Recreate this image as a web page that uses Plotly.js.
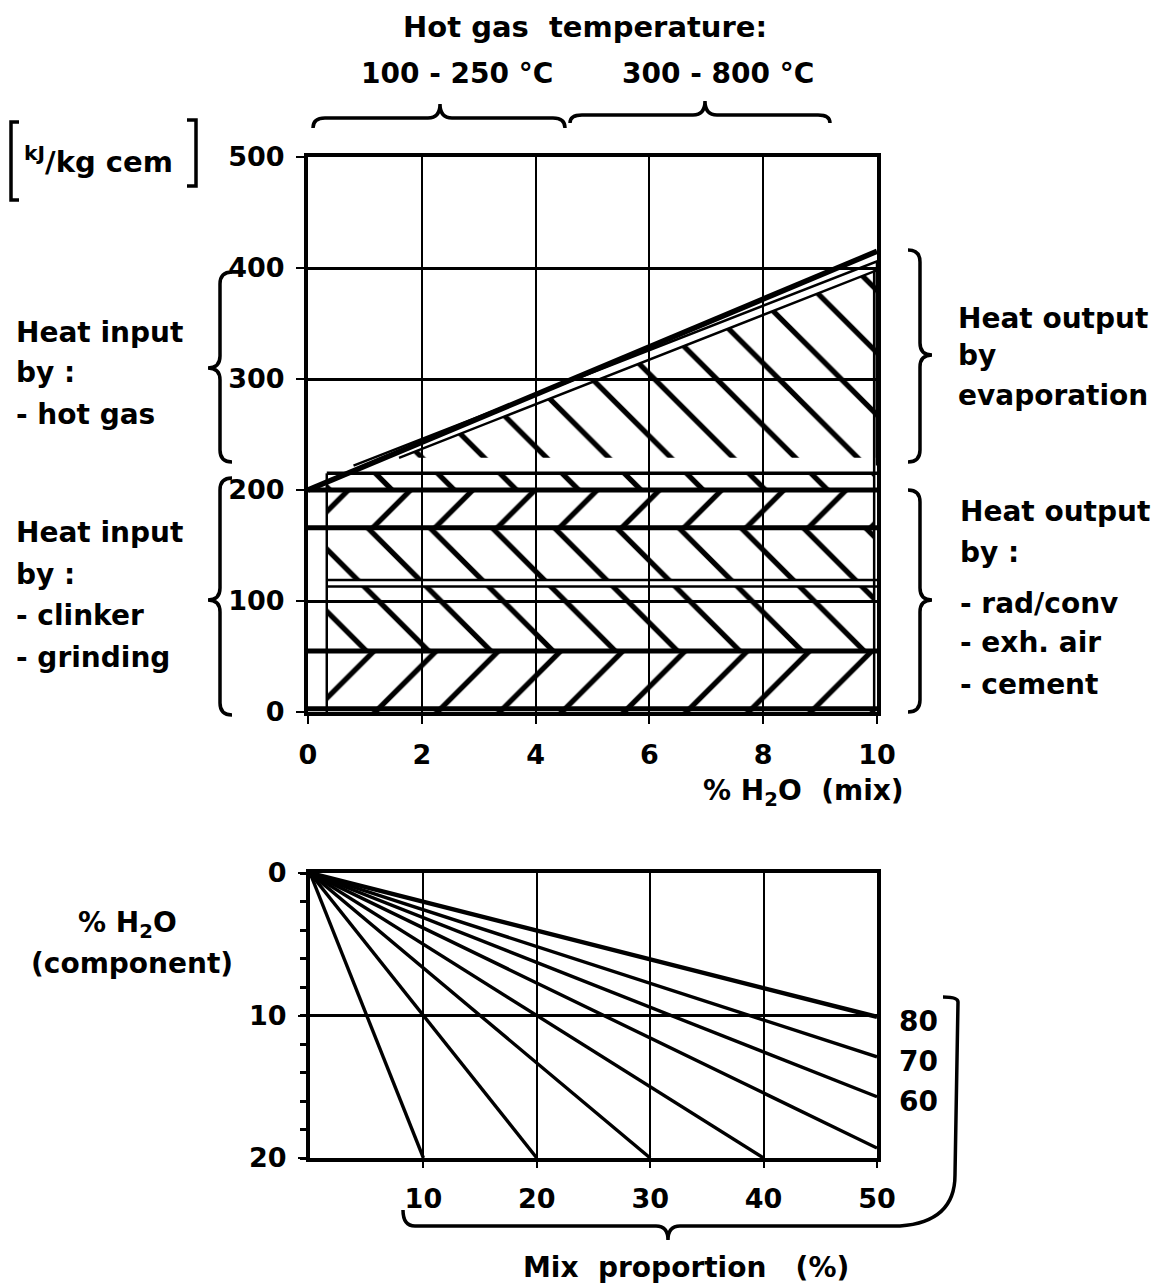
<!DOCTYPE html>
<html><head><meta charset="utf-8">
<script src="https://cdn.plot.ly/plotly-3.0.1.min.js"></script>
<style>body{margin:0;background:#fff}#chart{width:1151px;height:1283px}</style>
</head><body><div id="chart"></div>
<script>
// ---------- DATA ----------
// Top chart: heat balance vs % H2O (mix)
const mixRange = [0, 10];
const hotGasX = [0, 10];
const hotGasY = [200, 415];              // heat input: clinker/grinding + hot gas
const bandLow  = [0, 55, 119, 166, 200]; // heat output bands
const bandHigh = [55, 113, 166, 200, 215];
const bandHatch = ['/', '\\', '\\', '/', '\\'];
const boxX = [0.33, 9.95];
const bandLines = [3, 55, 113, 119, 166, 200, 215];
const bandLineStartX = [0, 0, 0.33, 0.33, 0, 0, 0.33];
const evapX = [1.6, 10, 10];             // evaporation output
const evapY = [229, 398, 229];
const evapLine2X = [0.8, 10, 10];
const evapLine2Y = [222, 406, 222];
const yTicksTop = [0, 100, 200, 300, 400, 500];
const xTicksTop = [0, 2, 4, 6, 8, 10];
// Bottom chart: % H2O (component) vs mix proportion
const compLineEndX = [10, 20, 30, 40, 50, 50, 50, 50];
const compLineEndY = [20, 20, 20, 20, 19.3, 15.7, 12.9, 10.1];
const propLabels = ['80', '70', '60'];
const propLabelLine = [7, 6, 5];
const xTicksBot = [10, 20, 30, 40, 50];
const yTicksBot = [0, 10, 20];

// ---------- LAYOUT HELPERS ----------
const W = 1151, H = 1283;
const FONT = 'DejaVu Sans, Liberation Sans, sans-serif';
const fx = p => p / W, fy = p => 1 - p / H;
function P(cmds) {
  return cmds.map(c => {
    const t = c[0], v = c.slice(1);
    const out = [];
    for (let i = 0; i < v.length; i += 2) out.push(fx(v[i]).toFixed(5) + ',' + fy(v[i + 1]).toFixed(5));
    return t + out.join(' ');
  }).join(' ');
}
function hBraceUp(x1, x2, xm, y, d, e) {
  const r = 12;
  return P([['M', x1, y + e], ['Q', x1, y, x1 + r, y], ['L', xm - r, y], ['Q', xm, y, xm, y - d],
            ['Q', xm, y, xm + r, y], ['L', x2 - r, y], ['Q', x2, y, x2, y + e]]);
}
function vBrace(x, y1, y2, ym, d, e) {
  const r = 12;
  return P([['M', x + e, y1], ['Q', x, y1, x, y1 + r], ['L', x, ym - r], ['Q', x, ym, x + d, ym],
            ['Q', x, ym, x, ym + r], ['L', x, y2 - r], ['Q', x, y2, x + e, y2]]);
}
const shp = path => ({type: 'path', xref: 'paper', yref: 'paper', path, line: {color: '#000', width: 3.5}});
const hatch = shape => ({shape, size: 44, solidity: 0.12, fgcolor: '#000', bgcolor: 'rgba(0,0,0,0)'});

// ---------- TRACES ----------
const traces = [];
for (let i = 0; i < bandLow.length; i++) {
  traces.push({type: 'scatter', mode: 'none', xaxis: 'x', yaxis: 'y',
    x: [boxX[0], boxX[1], boxX[1], boxX[0]], y: [bandLow[i], bandLow[i], bandHigh[i], bandHigh[i]],
    fill: 'toself', fillcolor: 'rgba(0,0,0,0)', fillpattern: hatch(bandHatch[i]),
    hoverinfo: 'skip', showlegend: false});
}
traces.push({type: 'scatter', mode: 'lines', xaxis: 'x', yaxis: 'y', x: evapX, y: evapY,
  fill: 'toself', fillcolor: 'rgba(0,0,0,0)', fillpattern: hatch('\\'),
  line: {color: '#000', width: 2.5}, hoverinfo: 'skip', showlegend: false});
traces.push({type: 'scatter', mode: 'lines', xaxis: 'x', yaxis: 'y', x: evapLine2X, y: evapLine2Y,
  line: {color: '#000', width: 2.5}, hoverinfo: 'skip', showlegend: false});
const bandLineW = [5, 5, 2.5, 2.5, 5, 5, 3.5];
bandLines.forEach((lv, i) => traces.push({type: 'scatter', mode: 'lines', xaxis: 'x', yaxis: 'y',
  x: [bandLineStartX[i], mixRange[1]], y: [lv, lv], line: {color: '#000', width: bandLineW[i]},
  hoverinfo: 'skip', showlegend: false}));
traces.push({type: 'scatter', mode: 'lines', xaxis: 'x', yaxis: 'y', x: [boxX[0], boxX[0]], y: [bandLow[0], bandHigh[4]],
  line: {color: '#000', width: 2.5}, hoverinfo: 'skip', showlegend: false});
traces.push({type: 'scatter', mode: 'lines', xaxis: 'x', yaxis: 'y', x: [boxX[1], boxX[1]], y: [bandLow[0], evapY[1]],
  line: {color: '#000', width: 2.5}, hoverinfo: 'skip', showlegend: false});
traces.push({type: 'scatter', mode: 'lines', xaxis: 'x', yaxis: 'y', x: hotGasX, y: hotGasY,
  line: {color: '#000', width: 5.5}, hoverinfo: 'skip', showlegend: false});
compLineEndX.forEach((xe, i) => traces.push({type: 'scatter', mode: 'lines', xaxis: 'x2', yaxis: 'y2',
  x: [0, xe], y: [0, compLineEndY[i]], line: {color: '#000', width: i === 7 ? 4.5 : 3.4},
  hoverinfo: 'skip', showlegend: false}));

// ---------- ANNOTATIONS ----------
const ann = [];
function T(text, x, y, anchor, size) {
  ann.push({text, xref: 'paper', yref: 'paper', x: fx(x), y: fy(y), xanchor: anchor || 'left', yanchor: 'middle',
    showarrow: false, font: {family: FONT, size: size || 28, color: '#000', weight: 700}});
}
const sp = '\u00a0';
T('Hot' + sp + 'gas' + sp + sp + 'temperature:', 585, 27, 'center', 29);
T('100 - 250 °C', 457, 73, 'center');
T('300 - 800 °C', 718, 73, 'center');
T('<sup>kJ</sup>/kg' + sp + 'cem', 22, 160, 'left', 29);
[['Heat input', 332], ['by :', 372], ['- hot gas', 414], ['Heat input', 533], ['by :', 574], ['- clinker', 615], ['- grinding', 657]]
  .forEach(a => T(a[0], 14, a[1]));
[['Heat output', 956, 318], ['by', 956, 355], ['evaporation', 956, 395], ['Heat output', 958, 512], ['by :', 958, 553],
 ['- rad/conv', 958, 603], ['- exh. air', 958, 642], ['- cement', 958, 684]].forEach(a => T(a[0], a[1], a[2]));
T('%' + sp + 'H<sub>2</sub>O' + sp + sp + '(mix)', 803, 792, 'center');
T('%' + sp + 'H<sub>2</sub>O', 128, 925, 'center');
T('(component)', 132, 963, 'center');
T('Mix' + sp + sp + 'proportion' + sp + sp + sp + '(%)', 686, 1267, 'center');
propLabels.forEach((t, k) => ann.push({text: t, xref: 'paper', yref: 'y2', x: fx(897), y: compLineEndY[propLabelLine[k]],
  yshift: -5, xanchor: 'left', yanchor: 'middle', showarrow: false, font: {family: FONT, size: 28, color: '#000', weight: 700}}));

// ---------- SHAPES (braces) ----------
const shapes = [
  shp(hBraceUp(313, 565, 440, 118, 14, 10)),
  shp(hBraceUp(570, 830, 705, 115, 14, 8)),
  shp(vBrace(220, 272, 462, 368, -12, 12)),
  shp(vBrace(220, 478, 715, 600, -12, 12)),
  shp(vBrace(920, 250, 462, 355, 12, -12)),
  shp(vBrace(920, 490, 712, 600, 12, -12)),
  shp(P([['M', 19, 122], ['L', 11, 122], ['L', 11, 200], ['L', 19, 200]])),
  shp(P([['M', 187, 120], ['L', 196, 120], ['L', 196, 186], ['L', 187, 186]])),
  shp(P([['M', 403, 1210], ['Q', 403, 1226, 415, 1226], ['L', 656, 1226], ['Q', 668, 1226, 668, 1240],
         ['Q', 668, 1226, 680, 1226], ['L', 900, 1226], ['Q', 955, 1222, 955, 1175], ['L', 958, 1002],
         ['Q', 958, 997, 943, 997]]))
];

// ---------- AXES ----------
const tickFont = {family: FONT, size: 27, color: '#000', weight: 700};
const axBase = {showline: true, linecolor: '#000', mirror: true, zeroline: false, gridcolor: '#000',
  ticks: 'outside', tickcolor: '#000', tickfont: tickFont, fixedrange: true};
const layout = {
  width: W, height: H, margin: {l: 0, r: 0, t: 0, b: 0}, paper_bgcolor: '#fff', plot_bgcolor: '#fff',
  showlegend: false,
  xaxis: Object.assign({}, axBase, {domain: [308 / W, 877 / W], range: mixRange, tickvals: xTicksTop,
    linewidth: 4, gridwidth: 2, ticklen: 8, tickwidth: 2, ticklabelstandoff: 8, anchor: 'y'}),
  yaxis: Object.assign({}, axBase, {domain: [fy(712), fy(157)], range: [0, 500], tickvals: yTicksTop,
    linewidth: 4, gridwidth: 3, ticklen: 8, tickwidth: 2, ticklabelstandoff: 6, anchor: 'x'}),
  xaxis2: Object.assign({}, axBase, {domain: [310 / W, 877 / W], range: [0, 50], tickvals: xTicksBot,
    linewidth: 4, gridwidth: 2, ticklen: 6, tickwidth: 2, ticklabelstandoff: 8, anchor: 'y2'}),
  yaxis2: Object.assign({}, axBase, {domain: [fy(1158), fy(873)], range: [20, 0], tickvals: yTicksBot,
    linewidth: 4, gridwidth: 3, ticklen: 8, tickwidth: 2, ticklabelstandoff: 6, anchor: 'x2',
    minor: {dtick: 2, ticks: 'outside', ticklen: 6, tickwidth: 3, tickcolor: '#000', showgrid: false}}),
  annotations: ann, shapes
};
Plotly.newPlot('chart', traces, layout, {staticPlot: true});
</script></body></html>
